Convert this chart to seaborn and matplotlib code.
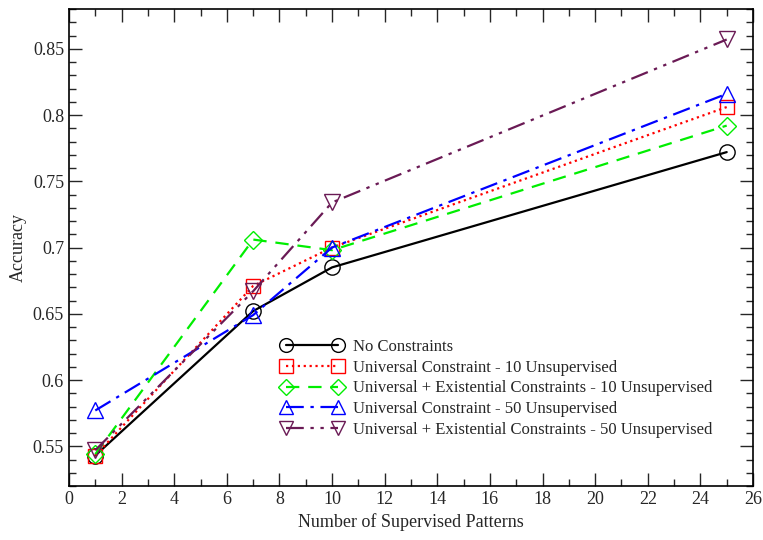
import matplotlib
matplotlib.use("Agg")
import matplotlib.pyplot as plt
from matplotlib.ticker import MultipleLocator
import pandas as pd
import seaborn as sns

# ── Data ────────────────────────────────────────────────────────────────────
patterns = [1, 7, 10, 25]
no_constraints = [0.543, 0.652, 0.685, 0.772]
univ_10 = [0.543, 0.671, 0.700, 0.806]
univ_exist_10 = [0.544, 0.706, 0.698, 0.792]
univ_50 = [0.577, 0.649, 0.700, 0.816]
univ_exist_50 = [0.547, 0.667, 0.734, 0.857]

labels = [
    "No Constraints",
    "Universal Constraint - 10 Unsupervised",
    "Universal + Existential Constraints - 10 Unsupervised",
    "Universal Constraint - 50 Unsupervised",
    "Universal + Existential Constraints - 50 Unsupervised",
]
series = [no_constraints, univ_10, univ_exist_10, univ_50, univ_exist_50]

colors = ["black", "#ff0000", "#00ee00", "#0000ff", "#6a1a55"]
markers = ["o", "s", "D", "^", "v"]
msizes = [11, 10.5, 9, 11, 11]
dashes = ["-", ":", (0, (6, 4)), (0, (8, 3, 1.5, 3)), (0, (8, 3, 1.5, 3, 1.5, 3))]

# ── Plot ────────────────────────────────────────────────────────────────────
sns.set_style("ticks")
plt.rcParams["font.family"] = ["Liberation Serif", "DejaVu Serif"]

fig = plt.figure(figsize=(7.63, 5.40), dpi=100)
ax = fig.add_axes([0.0904, 0.1, 0.8965, 0.8833])

for lab, vals, c, m, ms, ls in zip(labels, series, colors, markers, msizes, dashes):
    df = pd.DataFrame({"x": patterns, "y": vals})
    sns.lineplot(
        data=df, x="x", y="y", ax=ax, color=c, linestyle=ls, linewidth=1.6,
        marker=m, markersize=ms, markerfacecolor="none", markeredgecolor=c,
        markeredgewidth=1.0, label=lab,
    )

ax.set_xlim(0, 26)
ax.set_ylim(0.52, 0.88)
ax.xaxis.set_major_locator(MultipleLocator(2))
ax.xaxis.set_minor_locator(MultipleLocator(1))
ax.yaxis.set_minor_locator(MultipleLocator(0.01))
ax.set_yticks([0.55, 0.6, 0.65, 0.7, 0.75, 0.8, 0.85])
ax.set_yticklabels(["0.55", "0.6", "0.65", "0.7", "0.75", "0.8", "0.85"])
ax.tick_params(which="both", direction="in", top=True, right=True, labelsize=13, width=1.0)
ax.tick_params(which="major", length=9.5)
ax.tick_params(which="minor", length=5)
for sp in ax.spines.values():
    sp.set_linewidth(1.2)
    sp.set_color("black")

ax.set_xlabel("Number of Supervised Patterns", fontsize=13)
ax.set_ylabel("Accuracy", fontsize=13)

ax.legend(
    loc="upper left", bbox_to_anchor=(0.3, 0.322), frameon=False, fontsize=12,
    numpoints=2, handlelength=3.7, handletextpad=0.6, labelspacing=0.28,
    borderaxespad=0, markerscale=0.9,
)

fig.savefig("out.png", dpi=100)
plt.close(fig)
